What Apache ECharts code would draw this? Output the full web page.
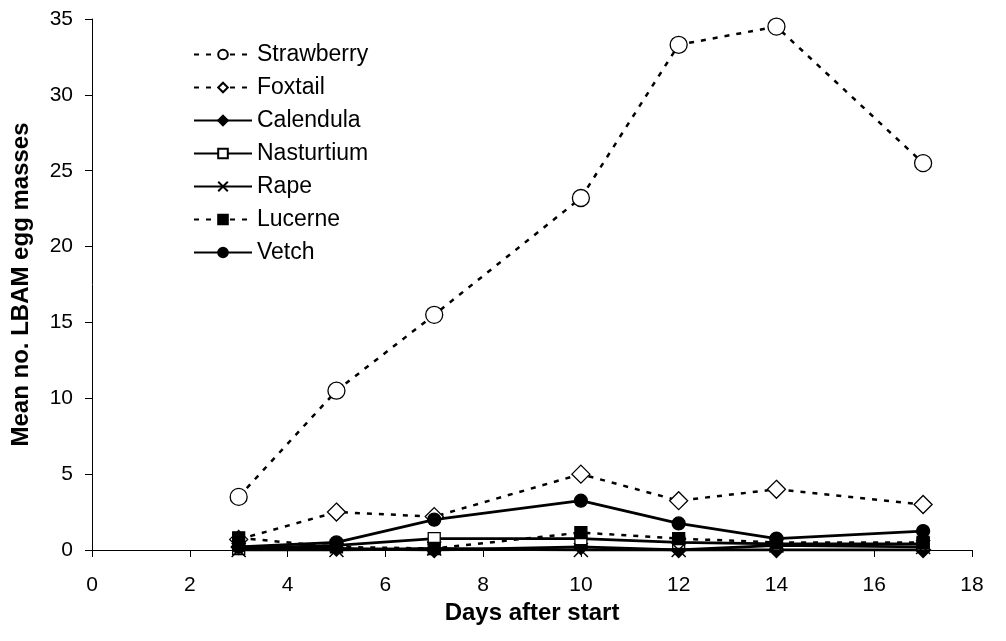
<!DOCTYPE html>
<html>
<head>
<meta charset="utf-8">
<script src="https://cdn.jsdelivr.net/npm/echarts@6/dist/echarts.min.js"></script>
<style>
  html, body { margin: 0; padding: 0; background: #fff; }
  #chart { width: 1006px; height: 641px; }
</style>
</head>
<body>
<div id="chart"></div>
<script>
// Sampling days and mean egg-mass counts per host plant
const days = [3, 5, 7, 10, 12, 14, 17];
const strawberry = [3.5, 10.5, 15.5, 23.2, 33.3, 34.5, 25.5];
const foxtail    = [0.7, 2.5, 2.2, 5.0, 3.25, 4.0, 3.0];
const calendula  = [0.2, 0.1, 0.0, 0.2, 0.0, 0.0, 0.0];
const nasturtium = [0.1, 0.3, 0.75, 0.75, 0.5, 0.4, 0.4];
const rape       = [0.0, 0.0, 0.1, 0.0, 0.0, 0.3, 0.2];
const lucerne    = [0.8, 0.2, 0.1, 1.15, 0.75, 0.5, 0.5];
const vetch      = [0.2, 0.5, 2.0, 3.25, 1.75, 0.75, 1.25];

const xTicks = [0, 2, 4, 6, 8, 10, 12, 14, 16, 18];
const yTicks = [0, 5, 10, 15, 20, 25, 30, 35];

const pairs = vals => days.map((d, i) => [d, vals[i]]);

const FONT = 'Liberation Sans, Arial, sans-serif';
const crossPath = 'path://M0,0L10,10M10,0L0,10';

function makeSeries(name, vals, opts) {
  return {
    name: name,
    type: 'line',
    data: pairs(vals),
    symbol: opts.symbol,
    symbolSize: opts.size,
    showAllSymbol: true,
    animation: false,
    lineStyle: {
      color: '#000',
      width: opts.dashed ? 2.5 : 2.8,
      type: opts.dashed ? [5, 7] : 'solid'
    },
    itemStyle: {
      color: opts.open ? '#fff' : '#000',
      borderColor: '#000',
      borderWidth: opts.border || 1.3
    },
    emphasis: { disabled: true }
  };
}

const chart = echarts.init(document.getElementById('chart'), null, { renderer: 'canvas' });
chart.setOption({
  backgroundColor: '#fff',
  animation: false,
  grid: { left: 92, right: 34, top: 19, bottom: 91, containLabel: false, outerBoundsMode: 'none' },
  legend: {
    orient: 'vertical',
    left: 188,
    top: 38,
    itemWidth: 58,
    itemHeight: 12,
    itemGap: 10,
    selectedMode: false,
    textStyle: { fontFamily: FONT, fontSize: 23, lineHeight: 22, color: '#000' },
    data: ['Strawberry', 'Foxtail', 'Calendula', 'Nasturtium', 'Rape', 'Lucerne', 'Vetch']
  },
  xAxis: {
    type: 'value',
    min: 0, max: 18, interval: 2,
    name: 'Days after start',
    nameLocation: 'middle',
    nameGap: 50,
    nameTextStyle: { fontFamily: FONT, fontSize: 24, fontWeight: 'bold', color: '#000' },
    axisLine: { show: true, onZero: false, lineStyle: { color: '#000', width: 1 } },
    axisTick: { show: true, length: 7, lineStyle: { color: '#000' } },
    axisLabel: {
      fontFamily: FONT, fontSize: 21, color: '#000', margin: 25,
      formatter: v => xTicks.includes(v) ? String(v) : ''
    },
    splitLine: { show: false }
  },
  yAxis: {
    type: 'value',
    min: 0, max: 35, interval: 5,
    name: 'Mean no. LBAM egg masses',
    nameLocation: 'middle',
    nameGap: 59,
    nameTextStyle: { fontFamily: FONT, fontSize: 24, fontWeight: 'bold', color: '#000' },
    axisLine: { show: true, lineStyle: { color: '#000', width: 1 } },
    axisTick: { show: true, length: 7, lineStyle: { color: '#000' } },
    axisLabel: {
      fontFamily: FONT, fontSize: 21, color: '#000', margin: 19,
      formatter: v => yTicks.includes(v) ? String(v) : ''
    },
    splitLine: { show: false }
  },
  series: [
    makeSeries('Strawberry', strawberry, { symbol: 'circle', size: 17, open: true, dashed: true }),
    makeSeries('Foxtail', foxtail, { symbol: 'diamond', size: 18, open: true, dashed: true }),
    makeSeries('Calendula', calendula, { symbol: 'diamond', size: 15, open: false }),
    makeSeries('Nasturtium', nasturtium, { symbol: 'rect', size: 12, open: true }),
    makeSeries('Rape', rape, { symbol: crossPath, size: 14, open: false, border: 1.5 }),
    makeSeries('Lucerne', lucerne, { symbol: 'rect', size: 12, open: false, dashed: true }),
    makeSeries('Vetch', vetch, { symbol: 'circle', size: 13, open: false })
  ]
});
</script>
</body>
</html>
